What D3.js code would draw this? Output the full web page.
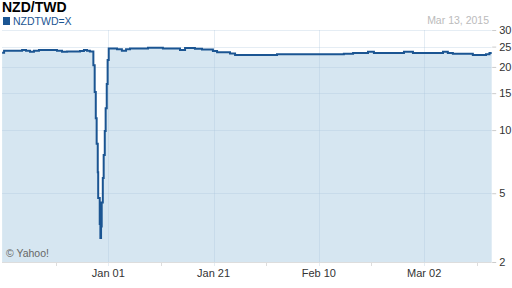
<!DOCTYPE html>
<html>
<head>
<meta charset="utf-8">
<script src="https://cdn.jsdelivr.net/npm/d3@7"></script>
<style>
  body { margin: 0; background: #fff; }
  svg { display: block; font-family: Arial, "Liberation Sans", sans-serif; }
</style>
</head>
<body>
<div id="chart"></div>
<script>

// --> DATA

var dates = [
    "2014-12-11T20:00", "2014-12-12T05:00", "2014-12-15T15:00", "2014-12-16T09:00",
    "2014-12-17T03:00", "2014-12-17T21:00", "2014-12-18T20:00", "2014-12-22T06:00",
    "2014-12-23T05:00", "2014-12-24T04:00", "2014-12-26T15:00", "2014-12-27T09:00",
    "2014-12-27T23:00", "2014-12-28T12:00", "2014-12-29T04:00", "2014-12-29T10:00",
    "2014-12-29T15:00", "2014-12-29T19:00", "2014-12-30T00:00", "2014-12-30T02:00",
    "2014-12-30T09:00", "2014-12-30T12:00", "2014-12-30T15:00", "2014-12-30T18:00",
    "2014-12-30T23:00", "2014-12-31T03:00", "2014-12-31T08:00", "2014-12-31T12:00",
    "2014-12-31T17:00", "2014-12-31T21:00", "2015-01-01T02:00", "2015-01-02T16:00",
    "2015-01-03T14:00", "2015-01-04T09:00", "2015-01-05T03:00", "2015-01-08T13:00",
    "2015-01-11T09:00", "2015-01-14T15:00", "2015-01-15T14:00", "2015-01-17T11:00",
    "2015-01-18T19:00", "2015-01-20T21:00", "2015-01-21T16:00", "2015-01-24T03:00",
    "2015-01-25T02:00", "2015-02-02T01:00", "2015-02-14T18:00", "2015-02-16T12:00",
    "2015-02-19T08:00", "2015-02-20T11:00", "2015-02-26T04:00", "2015-02-27T21:00",
    "2015-03-05T14:00", "2015-03-06T12:00", "2015-03-07T11:00", "2015-03-11T06:00",
    "2015-03-13T18:00", "2015-03-14T10:00", "2015-03-14T20:00"
];

var rates = [
    23.4, 23.9, 24.1, 23.9,
    23.6, 23.9, 24.1, 23.9,
    23.6, 23.7, 23.8, 24.1,
    23.9, 23.7, 20.4, 15.2,
    11.4, 8.6, 6.3, 4.75,
    3.57, 3.06, 3.47, 4.51,
    5.91, 7.6, 9.9, 12.7,
    16.6, 21.6, 24.5, 24.3,
    23.9, 24.3, 24.5, 24.7,
    24.5, 24.1, 24.6, 24.4,
    24.2, 23.8, 23.5, 23.2,
    22.8, 23.0, 23.1, 23.3,
    23.6, 23.3, 23.6, 23.3,
    23.6, 23.3, 23.1, 22.8,
    23.0, 23.3, 23.3
];

var labelDates = ["2015-01-01", "2015-01-21", "2015-02-10", "2015-03-02"];
var labelNames = ["Jan 01", "Jan 21", "Feb 10", "Mar 02"];
var minorDates = ["2014-12-22", "2015-01-11", "2015-01-31", "2015-02-20", "2015-03-12"];

var yTicks = [2.35, 5, 10, 15, 20, 25, 30];
var yTickNames = ["2", "5", "10", "15", "20", "25", "30"];

var title = "NZD/TWD";
var seriesName = "NZDTWD=X";
var dateText = "Mar 13, 2015";

// --> CREATE SVG DRAWING AREA

var width = 512,
    height = 288;

var plotLeft = 3, plotRight = 491.7, plotTop = 30, plotBottom = 262;

var lineColor = '#1b5592';
var fillColor = '#d6e6f1';

var parseTime = d3.timeParse("%Y-%m-%dT%H:%M");
var parseDay = d3.timeParse("%Y-%m-%d");

var data = dates.map(function (d, i) {
    return { date: parseTime(d), value: rates[i] };
});

var x = d3.scaleTime()
    .domain([new Date(2014, 11, 12), new Date(2015, 2, 14, 20)])
    .range([plotLeft, plotRight]);

var y = d3.scaleLog()
    .domain([yTicks[0], 30])
    .range([plotBottom, plotTop]);

var svg = d3.select("#chart").append("svg")
    .attr("width", width)
    .attr("height", height);

// area + line
var area = d3.area()
    .curve(d3.curveStepAfter)
    .x(function (d) { return x(d.date); })
    .y0(plotBottom)
    .y1(function (d) { return y(d.value); });

var line = d3.line()
    .curve(d3.curveStepAfter)
    .x(function (d) { return x(d.date); })
    .y(function (d) { return y(d.value); });

svg.append("path")
    .datum(data)
    .attr("d", area)
    .style("fill", fillColor);

// grid
svg.selectAll(".hgrid")
    .data(yTicks.slice(1))
    .enter().append("line")
    .attr("class", "hgrid")
    .attr("x1", 2)
    .attr("x2", plotRight)
    .attr("y1", function (d) { return Math.round(y(d)) + 0.5; })
    .attr("y2", function (d) { return Math.round(y(d)) + 0.5; })
    .style("stroke", "#a9c3db")
    .style("stroke-opacity", 0.3);

svg.selectAll(".vgrid")
    .data(labelDates)
    .enter().append("line")
    .attr("class", "vgrid")
    .attr("x1", function (d) { return Math.round(x(parseDay(d))) + 0.5; })
    .attr("x2", function (d) { return Math.round(x(parseDay(d))) + 0.5; })
    .attr("y1", plotTop)
    .attr("y2", plotBottom + 4)
    .style("stroke", "#a9c3db")
    .style("stroke-opacity", 0.3);

svg.append("path")
    .datum(data)
    .attr("d", line)
    .style("fill", "none")
    .style("stroke", lineColor)
    .style("stroke-width", 2);

// bottom axis
svg.append("line")
    .attr("x1", 2).attr("x2", plotRight)
    .attr("y1", plotBottom + 0.5).attr("y2", plotBottom + 0.5)
    .style("stroke", "#dddddd");

svg.selectAll(".minor")
    .data(minorDates)
    .enter().append("line")
    .attr("class", "minor")
    .attr("x1", function (d) { return Math.round(x(parseDay(d))) + 0.5; })
    .attr("x2", function (d) { return Math.round(x(parseDay(d))) + 0.5; })
    .attr("y1", plotBottom)
    .attr("y2", plotBottom + 4)
    .style("stroke", "#dddddd");

svg.selectAll(".xlabel")
    .data(labelDates)
    .enter().append("text")
    .attr("class", "xlabel")
    .attr("x", function (d) { return x(parseDay(d)); })
    .attr("y", 277)
    .attr("text-anchor", "middle")
    .style("font-size", "11px")
    .style("fill", "#333")
    .text(function (d, i) { return labelNames[i]; });

// right axis
var yAxis = d3.axisRight(y)
    .tickValues(yTicks)
    .tickSize(4)
    .tickPadding(3)
    .tickFormat(function (d, i) { return yTickNames[i]; });

var gy = svg.append("g")
    .attr("transform", "translate(" + (plotRight + 0.5) + ",0)")
    .call(yAxis);

gy.select(".domain").remove();
gy.selectAll(".tick line").style("stroke", "#cccccc");
gy.selectAll(".tick text")
    .style("font-size", "11px")
    .style("font-family", "Arial, 'Liberation Sans', sans-serif")
    .style("fill", "#333");

// header
svg.append("text")
    .attr("x", 2)
    .attr("y", 12)
    .style("font-size", "14px")
    .style("font-weight", "bold")
    .style("fill", "#000")
    .text(title);

svg.append("rect")
    .attr("x", 3).attr("y", 17)
    .attr("width", 7).attr("height", 8)
    .style("fill", lineColor);

svg.append("text")
    .attr("x", 13)
    .attr("y", 25)
    .style("font-size", "10.5px")
    .style("fill", lineColor)
    .text(seriesName);

svg.append("text")
    .attr("x", 489)
    .attr("y", 24)
    .attr("text-anchor", "end")
    .style("font-size", "10.5px")
    .style("fill", "#bbbbbb")
    .text(dateText);

svg.append("text")
    .attr("x", 6)
    .attr("y", 257)
    .style("font-size", "10.5px")
    .style("fill", "#666")
    .text("\u00a9 Yahoo!");

</script>
</body>
</html>
